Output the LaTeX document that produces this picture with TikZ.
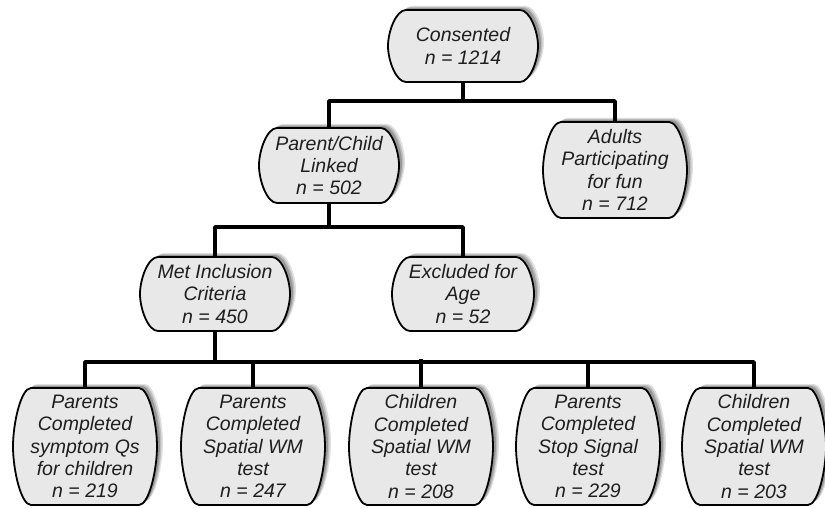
\documentclass[tikz,border=0pt]{standalone}
\usepackage{fontspec}
\setmainfont{Liberation Sans}
\definecolor{boxfill}{HTML}{E8E8E9}
\definecolor{txt}{HTML}{1E1E1E}
\tikzset{
  bxtext/.style={inner sep=0pt, outer sep=0pt, align=center, text=txt,
    font=\fontsize{19.5}{22.3}\selectfont\itshape},
  boxline/.style={draw=black, line width=1.8pt, fill=boxfill},
  conn/.style={draw=black, line width=3.6pt, line join=round}
}
\newcommand\fshape[1]{%
  \path[#1] (\fxc,\fya) -- (\fxd,\fya)
    .. controls (\fxf,\fya) and (\fxb,\fyc) .. (\fxb,\fym)
    .. controls (\fxb,\fyd) and (\fxf,\fyb) .. (\fxd,\fyb)
    -- (\fxc,\fyb)
    .. controls (\fxe,\fyb) and (\fxa,\fyd) .. (\fxa,\fym)
    .. controls (\fxa,\fyc) and (\fxe,\fya) .. cycle;}
\newcommand\flowbox[6]{%
  \pgfmathsetmacro\fxa{#2-#4/2}%
  \pgfmathsetmacro\fxb{#2+#4/2}%
  \pgfmathsetmacro\fya{#3-#5/2}%
  \pgfmathsetmacro\fyb{#3+#5/2}%
  \pgfmathsetmacro\fym{#3}%
  \pgfmathsetmacro\fxc{\fxa+18}%
  \pgfmathsetmacro\fxd{\fxb-18}%
  \pgfmathsetmacro\fxe{\fxa+8}%
  \pgfmathsetmacro\fxf{\fxb-8}%
  \pgfmathsetmacro\fyc{\fya+0.3*#5}%
  \pgfmathsetmacro\fyd{\fyb-0.3*#5}%
  \fshape{fill=black, opacity=0.12, xshift=6pt, yshift=4pt}%
  \fshape{fill=black, opacity=0.15, xshift=4.5pt, yshift=3pt}%
  \fshape{fill=black, opacity=0.2, xshift=3pt, yshift=2pt}%
  \fshape{boxline}%
  \node[bxtext, minimum width=#4pt, minimum height=#5pt] (#1) at (#2,#3) {#6};%
}
\begin{document}
\begin{tikzpicture}[x=1pt, y=-1pt]
\useasboundingbox[fill=white] (0,0) rectangle (825,508);

\flowbox{cons}{463}{46}{150}{72}{Consented\\n = 1214}
\flowbox{pc}{329}{165.5}{140}{75}{Parent/Child\\Linked\\n = 502}
\flowbox{adults}{615}{170}{144}{96}{Adults\\Participating\\for fun\\n = 712}
\flowbox{met}{215}{294}{150}{74}{Met Inclusion\\Criteria\\n = 450}
\flowbox{excl}{463}{294}{142}{74}{Excluded for\\Age\\n = 52}
\flowbox{q1}{85}{446.5}{144}{117}{Parents\\Completed\\symptom Qs\\for children\\n = 219}
\flowbox{q2}{253}{446.5}{144}{117}{Parents\\Completed\\Spatial WM\\test\\n = 247}
\flowbox{q3}{421}{446.5}{144}{117}{Children\\Completed\\Spatial WM\\test\\n = 208}
\flowbox{q4}{588}{446.5}{144}{117}{Parents\\Completed\\Stop Signal\\test\\n = 229}
\flowbox{q5}{754}{446.5}{144}{117}{Children\\Completed\\Spatial WM\\test\\n = 203}

\coordinate (b1) at (463,101);
\coordinate (b2) at (329,227);
\coordinate (b3) at (215,362);

\draw[conn] (cons.south) -- (b1);
\draw[conn] (pc.north) |- (b1) -| (adults.north);
\draw[conn] (pc.south) -- (b2);
\draw[conn] (met.north) |- (b2) -| (excl.north);
\draw[conn] (met.south) -- (b3);
\draw[conn] (q1.north) |- (b3) -| (q5.north);
\draw[conn] (q2.north) -- (q2.north |- b3);
\draw[conn] (q3.north) -- ([yshift=3pt]q3.north |- b3);
\draw[conn] (q4.north) -- (q4.north |- b3);
\end{tikzpicture}
\end{document}
